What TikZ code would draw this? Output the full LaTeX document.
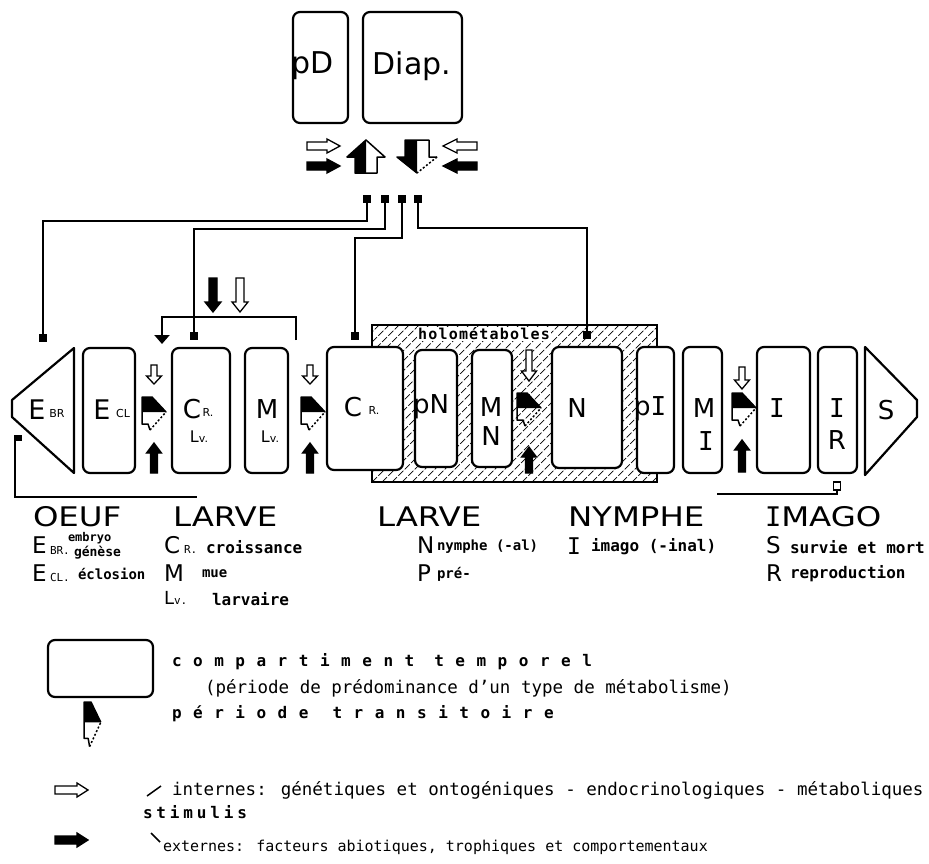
\documentclass[tikz,border=0pt]{standalone}
\usepackage{fontspec}
\setmainfont{DejaVu Sans}
\newfontfamily\monof{DejaVu Sans Mono}
\newfontfamily\widef[LetterSpace=72]{DejaVu Sans Mono}
\newfontfamily\stimf[LetterSpace=24]{DejaVu Sans Mono}
\newfontfamily\holof[LetterSpace=8]{DejaVu Sans Mono}
\newfontfamily\lcdf[FakeStretch=1.2]{DejaVu Sans}
\usetikzlibrary{arrows.meta}
\newcommand\fsz[1]{\fontsize{#1}{#1}\selectfont}
\newcommand\myVArrow[7]{\filldraw[line width=1.3pt, fill=#1] ({#2-#6},#3) -- ({#2+#6},#3) -- ({#2+#6},#4) -- ({#2+#7},#4) -- (#2,#5) -- ({#2-#7},#4) -- ({#2-#6},#4) -- cycle;}
\newcommand\myHArrow[7]{\filldraw[line width=1.3pt, fill=#1] (#3,{#2-#6}) -- (#3,{#2+#6}) -- (#4,{#2+#6}) -- (#4,{#2+#7}) -- (#5,#2) -- (#4,{#2-#7}) -- (#4,{#2-#6}) -- cycle;}
\begin{document}
\begin{tikzpicture}[x=1pt,y=-1pt,
  comp/.style={draw, line width=2.2pt, rounded corners=7pt, fill=white, inner sep=0pt},
  poly/.style={draw, line width=2.2pt, fill=white, line join=round},
  conn/.style={line width=2.2pt},
  sq/.style={fill=black, inner sep=0pt, minimum size=8pt},
  txt/.style={inner sep=0pt, outer sep=0pt},
  big/.style={txt, font=\fsz{26}},
  sub/.style={txt, font=\fsz{11}},
  head/.style={txt, anchor=west, font=\lcdf\fsz{27}},
  ini/.style={txt, anchor=west, font=\fsz{23}},
  small/.style={txt, anchor=west, font=\monof\bfseries\fsz{14}},
  trans/.pic={
    \fill (0,0) -- (10,0) -- (24,15) -- (0,15) -- cycle;
    \draw[line width=1.5pt, line join=round] (24,15) -- (10,0) -- (0,0) -- (0,27) -- (6,27) -- (8,33);
    \draw[line width=1.5pt, dash pattern=on 2pt off 2pt] (8,33) -- (24,15);
  }]
\fill[white] (0,0) rectangle (929,863);
\useasboundingbox (0,0) rectangle (929,863);

% ---------- top compartments ----------
\node[comp, minimum width=55pt, minimum height=111pt] (pD) at (320.5,67.5) {};
\node[comp, minimum width=99pt, minimum height=111pt] (diap) at (412.5,67.5) {};
\node[txt, anchor=west, font=\fsz{30}] (pDt) at (291,66) {pD};
\node[txt, font=\fsz{30}] (diapt) at (412,66) {Diap.};

% ---------- top arrows ----------
\myHArrow{white}{146}{307}{327}{340}{4}{7}
\myHArrow{black}{166}{307}{327}{340}{4}{7}
\fill (366,140) -- (347,157) -- (355,157) -- (355,173) -- (366,173) -- cycle;
\draw[line width=1.5pt, line join=round] (366,140) -- (385,157) -- (377,157) -- (377,173) -- (355,173) -- (355,157) -- (347,157) -- cycle;
\fill (405,140) -- (417,140) -- (417,173) -- (397,157) -- (405,157) -- cycle;
\draw[line width=1.5pt, line join=round] (417,173) -- (397,157) -- (405,157) -- (405,140) -- (429,140) -- (429,157) -- (437,157);
\draw[line width=1.5pt, dash pattern=on 2pt off 2pt] (437,157) -- (417,173);
\myHArrow{white}{146}{477}{457}{443}{4}{7}
\myHArrow{black}{166}{477}{457}{443}{4}{7}

% ---------- hatched holometabolous zone ----------
\begin{scope}
  \clip (372,325) rectangle (657,482);
  \foreach \k in {0,...,46}
    \draw[line width=0.7pt, dash pattern=on 7pt off 2pt] ({212+\k*10},482) -- ++(160,-160);
\end{scope}
\draw[line width=2.2pt] (372,325) rectangle (657,482);
\node[txt, fill=white, inner sep=1pt, font=\holof\bfseries\fsz{15}] (holo) at (484,334) {holométaboles};

% ---------- main row ----------
\draw[poly] (74,348) -- (12,400) -- (12,417) -- (74,473) -- cycle;
\coordinate (ebr) at (43,410);
\node[comp, minimum width=52pt, minimum height=125pt] (ecl) at (109,410.5) {};
\node[comp, minimum width=58pt, minimum height=125pt] (crlv) at (201,410.5) {};
\node[comp, minimum width=43pt, minimum height=125pt] (mlv) at (266.5,410.5) {};
\node[comp, minimum width=76pt, minimum height=123pt] (cr) at (365,408.5) {};
\node[comp, minimum width=42pt, minimum height=117pt] (pN) at (436,408.5) {};
\node[comp, minimum width=40pt, minimum height=117pt] (mn) at (492,408.5) {};
\node[comp, minimum width=70pt, minimum height=121pt] (nn) at (587,407.5) {};
\node[comp, minimum width=37pt, minimum height=126pt] (pI) at (655.5,410) {};
\node[comp, minimum width=39pt, minimum height=126pt] (mi) at (702.5,410) {};
\node[comp, minimum width=53pt, minimum height=126pt] (ii) at (783.5,410) {};
\node[comp, minimum width=39pt, minimum height=126pt] (ir) at (837.5,410) {};
\draw[poly] (865,347) -- (917,400) -- (917,417) -- (865,475) -- cycle;
\coordinate (ss) at (885,410);

% box texts
\node[big, font=\fsz{27}] (t-ebr) at (37,410) {E};
\node[sub] (t-ebr2) at (57,413) {BR};
\node[big, font=\fsz{27}] (t-ecl) at (102,410) {E};
\node[sub] (t-ecl2) at (123,413) {CL};
\node[big] (t-cr1) at (192,409) {C};
\node[sub] (t-cr1b) at (208,412) {R.};
\node[txt] (t-lv1) at (199,437) {\fsz{16}L\fsz{11}v.};
\node[big] (t-m1) at (267,409) {M};
\node[txt] (t-lv2) at (270,437) {\fsz{16}L\fsz{11}v.};
\node[big] (t-cr2) at (353,407) {C};
\node[sub] (t-cr2b) at (374,410) {R.};
\node[txt, anchor=west, font=\fsz{26}] (t-pn) at (413,407) {pN};
\node[big] (t-m2) at (491,407) {M};
\node[big] (t-n2) at (491,436) {N};
\node[big] (t-n) at (577,408) {N};
\node[txt, anchor=west, font=\fsz{26}] (t-pi) at (634,409) {p{\monof I}};
\node[big] (t-m3) at (704,408) {M};
\node[big, font=\monof\fsz{26}] (t-i3) at (706,441) {I};
\node[big, font=\monof\fsz{26}] (t-i) at (777,408) {I};
\node[big, font=\monof\fsz{26}] (t-ir) at (837,408) {I};
\node[big] (t-r) at (837,440) {R};
\node[big] (t-s) at (886,410) {S};

% ---------- transition periods ----------
\pic at (142,397) {trans};
\pic at (301,397) {trans};
\pic at (517,393) {trans};
\pic at (732,393) {trans};
\myVArrow{white}{154}{365}{376}{384}{3}{7.5}
\myVArrow{black}{154}{473}{453}{443}{3.5}{7.5}
\myVArrow{white}{310}{365}{376}{384}{3}{7.5}
\myVArrow{black}{310}{473}{453}{443}{3.5}{7.5}
\myVArrow{white}{529}{350}{371}{381}{3}{7.5}
\myVArrow{black}{529}{473}{457}{447}{3.5}{7.5}
\myVArrow{white}{742}{367}{380}{389}{3}{7.5}
\myVArrow{black}{742}{472}{450}{440}{3.5}{7.5}

% ---------- connectors ----------
\node[sq] (c1) at (367,199) {};
\node[sq] (c2) at (385,199) {};
\node[sq] (c3) at (402,199) {};
\node[sq] (c4) at (418,199) {};
\node[sq] (e1) at (43,338) {};
\node[sq] (e2) at (194,336) {};
\node[sq] (e3) at (355,336) {};
\node[sq] (e4) at (587,335) {};
\draw[conn] (c1.center) -- ++(0,22) -| (e1.center);
\draw[conn] (c2.center) -- ++(0,30) -| (e2.center);
\draw[conn] (c3.center) -- ++(0,39) -| (e3.center);
\draw[conn] (c4.center) -- ++(0,29) -| (e4.center);

% bracket with stimuli
\coordinate (bl) at (162,317);
\coordinate (br) at (296,317);
\coordinate (brb) at (296,340);
\coordinate (blb) at (162,344);
\draw[conn, -{Triangle[width=15pt,length=9pt]}] (brb) -- (br) -- (bl) -- (blb);
\myVArrow{black}{213}{278}{302}{312}{4}{8}
\myVArrow{white}{240}{278}{302}{312}{4}{8}

% loop back to EBR
\coordinate (eb1) at (15,438);
\coordinate (eb2) at (15,497);
\coordinate (eb3) at (197,497);
\draw[conn] (eb1) -- (eb2) -- (eb3);
\fill (14,435) rectangle (22,441);

% connector under IR
\coordinate (ir1) at (717,494);
\coordinate (ir2) at (837,494);
\coordinate (ir3) at (837,490);
\draw[conn] (ir1) -- (ir2) -- (ir3);
\draw[line width=1.6pt] (833.5,482) rectangle (840.5,490);

% ---------- stage names ----------
\node[head] (h1) at (33,517) {OEUF};
\node[head] (h2) at (173,517) {LARVE};
\node[head] (h3) at (377,517) {LARVE};
\node[head] (h4) at (568,517) {NYMPHE};
\node[head] (h5) at (765,517) {{\monof I}MAGO};

% key letters
\node[ini] (k1) at (32,545) {E};
\node[txt, anchor=west, font=\monof\fsz{11}] (k1b) at (50,550) {BR.};
\node[small, font=\monof\bfseries\fsz{12}] (k1c) at (68,538) {embryo};
\node[small, font=\monof\bfseries\fsz{13}] (k1d) at (74,553) {génèse};
\node[ini] (k2) at (32,573) {E};
\node[txt, anchor=west, font=\monof\fsz{11}] (k2b) at (50,577) {CL.};
\node[small] (k2c) at (78,574) {éclosion};
\node[ini] (k3) at (164,545) {C};
\node[txt, anchor=west, font=\monof\fsz{11}] (k3b) at (184,549) {R.};
\node[small, font=\monof\bfseries\fsz{16}] (k3c) at (206,547) {croissance};
\node[ini] (k4) at (164,573) {M};
\node[small] (k4c) at (202,574) {mue};
\node[txt, anchor=west] (k5) at (164,598) {\fsz{18}L\monof\fsz{11}v.};
\node[small, font=\monof\bfseries\fsz{16}] (k5c) at (212,599) {larvaire};
\node[ini] (k6) at (417,545) {N};
\node[small] (k6c) at (437,547) {nymphe (-al)};
\node[ini] (k7) at (417,573) {P};
\node[small] (k7c) at (437,574) {pré-};
\node[ini, font=\monof\fsz{23}] (k8) at (567,546) {I};
\node[small, font=\monof\bfseries\fsz{16}] (k8c) at (591,547) {imago (-inal)};
\node[ini] (k9) at (766,545) {S};
\node[small, font=\monof\bfseries\fsz{16}] (k9c) at (790,547) {survie et mort};
\node[ini] (k10) at (766,573) {R};
\node[small, font=\monof\bfseries\fsz{16}] (k10c) at (790,574) {reproduction};

% ---------- legend ----------
\node[comp, minimum width=105pt, minimum height=57pt] (lgbox) at (100.5,668.5) {};
\node[txt, anchor=west, font=\widef\bfseries\fsz{16}] (lg1) at (172,662) {compartiment\hspace{20pt}temporel};
\node[txt, anchor=west, font=\monof\fsz{17.5}] (lg2) at (205,688) {(période de prédominance d’un type de métabolisme)};
\pic[xscale=0.7, yscale=1.35] at (84,702) {trans};
\node[txt, anchor=west, font=\widef\bfseries\fsz{16}] (lg3) at (172,714) {période\hspace{24pt}transitoire};
\myHArrow{white}{790}{55}{77}{88}{4}{7}
\myHArrow{black}{840}{55}{77}{88}{4}{7}
\draw[line width=1.5pt] (147,796) -- (161,786);
\node[txt, anchor=west, font=\monof\fsz{17.5}] (lg4) at (172,790) {internes: génétiques et ontogéniques - endocrinologiques - métaboliques};
\node[txt, anchor=west, font=\stimf\bfseries\fsz{16}] (lg5) at (143,812) {stimulis};
\draw[line width=1.5pt] (151,833) -- (160,842);
\node[txt, anchor=west, font=\monof\fsz{15}] (lg6) at (163,847) {externes: facteurs abiotiques, trophiques et comportementaux};
\end{tikzpicture}
\end{document}
